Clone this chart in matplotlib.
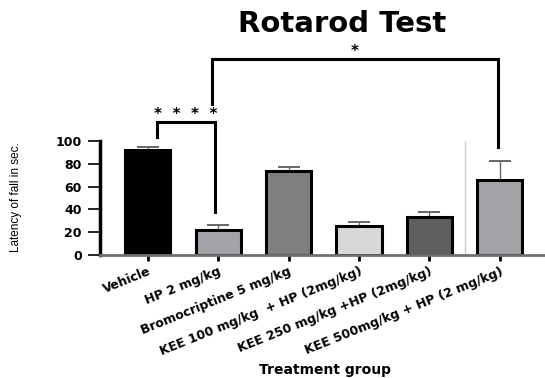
import matplotlib.pyplot as plt
import numpy as np

# rotarod latency per treatment group (mean + SEM)
groups = [
    "Vehicle",
    "HP 2 mg/kg",
    "Bromocriptine 5 mg/kg",
    "KEE 100 mg/kg  + HP (2mg/kg)",
    "KEE 250 mg/kg +HP (2mg/kg)",
    "KEE 500mg/kg + HP (2 mg/kg)",
]
means = [92, 22, 73.5, 25.5, 33.5, 66]
sem = [3, 4, 3.5, 3.5, 4, 16.5]
colors = ["#000000", "#a3a3a7", "#7f7f7f", "#d8d8d8", "#5f5f5f", "#a3a3a7"]
yticks = [0, 20, 40, 60, 80, 100]

fig = plt.figure(figsize=(5.45, 3.78), dpi=100)
ax = fig.add_axes([0.183, 0.325, 0.817, 0.302])

x = np.arange(len(groups))
ax.bar(x, means, width=0.64, color=colors, edgecolor="black", linewidth=2.2, zorder=2)
ax.errorbar(x, means, yerr=[np.zeros(len(sem)), sem], fmt="none",
            ecolor="#666666", elinewidth=1, capsize=8, capthick=1.4, zorder=1)

# separator before the last group
ax.plot([4.5, 4.5], [0, 100], color="#cccccc", lw=1, zorder=0)

ax.set_xlim(-0.68, 5.64)
ax.set_ylim(0, 100)
ax.set_yticks(yticks)
ax.set_xticks(x)
ax.set_xticklabels(groups, rotation=22, ha="right", rotation_mode="anchor",
                   fontsize=9, fontweight="bold")
for lab in ax.get_yticklabels():
    lab.set_fontweight("bold")
ax.tick_params(axis="y", labelsize=9, length=9, width=1.2, pad=4)
ax.tick_params(axis="x", length=4, width=2, pad=3)

ax.spines["top"].set_visible(False)
ax.spines["right"].set_visible(False)
ax.spines["left"].set_linewidth(2.5)
ax.spines["bottom"].set_linewidth(2)
ax.spines["bottom"].set_color("#707070")

ax.set_ylabel("Latency of fall in sec.", fontsize=8.5, family="Liberation Sans")
ax.yaxis.set_label_coords(-0.175, 0.51)

# significance brackets
def bracket(x1, x2, top, y1, y2, label, ty):
    ax.plot([x1, x1, x2, x2], [y1, top, top, y2], color="black", lw=2.2,
            clip_on=False, solid_joinstyle="miter")
    ax.text((x1 + x2) / 2, ty, label, ha="center", va="center",
            fontsize=11, fontweight="bold", clip_on=False)

bracket(0.13, 0.95, 116.7, 103.5, 37.7, "*  *  *  *", 123.5)
bracket(0.92, 4.97, 171.5, 132.5, 94.7, "*", 178.5)

fig.text(0.628, 0.937, "Rotarod Test", ha="center", va="center",
         fontsize=21, fontweight="heavy")
fig.text(0.596, 0.002, "Treatment group", ha="center", va="bottom",
         fontsize=10, fontweight="bold")

plt.savefig("out.png", dpi=100)
plt.close()
